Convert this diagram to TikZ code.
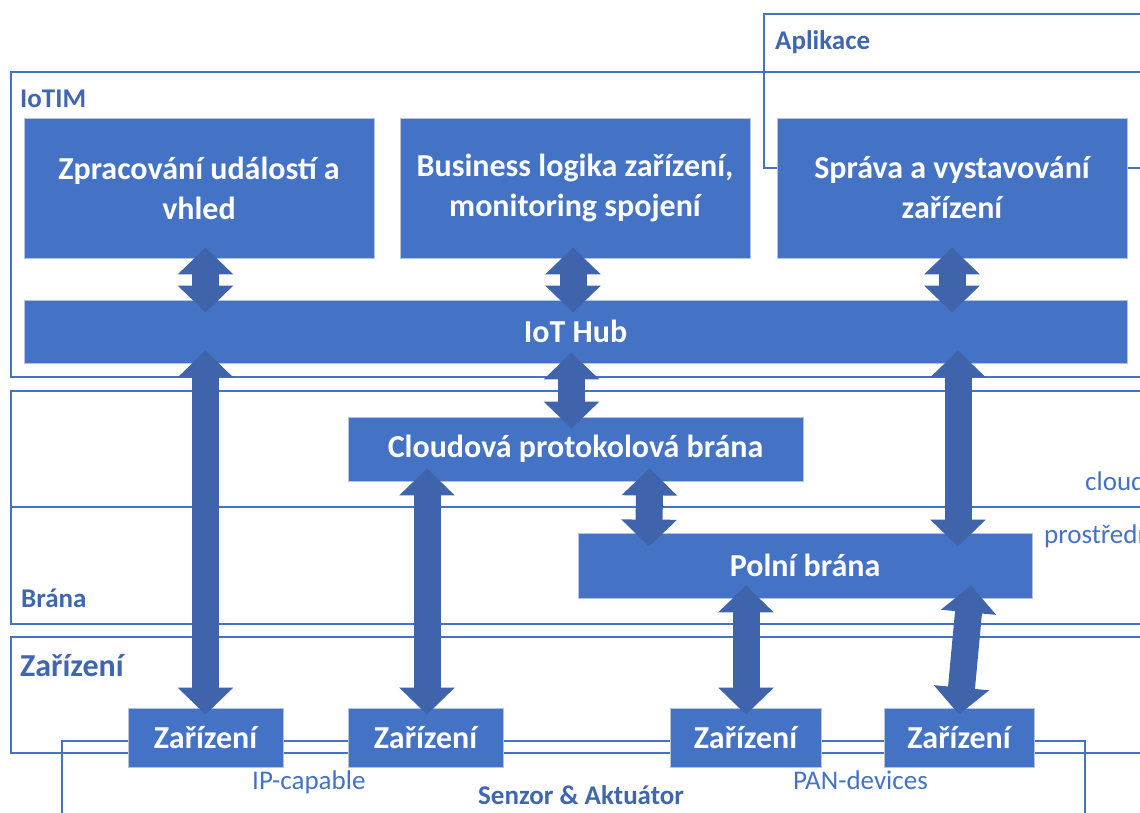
\documentclass[tikz,border=0pt]{standalone}
\usepackage{fontspec}
\setmainfont{Carlito}
\usetikzlibrary{arrows.meta,calc}

\definecolor{boxblue}{HTML}{4472C4}
\definecolor{boxedge}{HTML}{B7C3DB}
\definecolor{arrowblue}{HTML}{3F64AB}
\definecolor{frameblue}{HTML}{4472C4}
\definecolor{labelblue}{HTML}{3F66B0}

\tikzset{
  layerframe/.style={draw=frameblue, line width=1.3pt},
  bluebox/.style={fill=boxblue, draw=boxedge, line width=0.8pt, text=white,
    font=\bfseries\fontsize{32}{40}\selectfont, align=center, inner sep=0pt},
  devbox/.style={bluebox, minimum height=59pt},
  sectionlabel/.style={text=labelblue, font=\bfseries\fontsize{27}{32}\selectfont,
    anchor=base west, inner sep=0pt},
  notelabel/.style={text=frameblue, font=\fontsize{27}{32}\selectfont,
    anchor=base west, inner sep=0pt},
  blockarrow/.style={draw=arrowblue, line width=27pt,
    {Triangle[length=27pt,width=54pt]}-{Triangle[length=27pt,width=54pt]}}
}

\begin{document}
\begin{tikzpicture}[x=1pt, y=-1pt]
  \useasboundingbox (0,0) rectangle (1140,812);
  \fill[white] (0,0) rectangle (1140,812);

  % layer frames
  \draw[layerframe] (764,14) rectangle (1160,168);
  \draw[layerframe] (11,72) rectangle (1160,377);
  \draw[layerframe] (11,391) rectangle (1160,507);
  \draw[layerframe] (11,507) rectangle (1160,624);
  \draw[layerframe] (11,637) rectangle (1160,753);
  \draw[layerframe] (62,741) rectangle (1085,830);

  % service blocks
  \node[bluebox, minimum width=350pt, minimum height=140pt] (zp) at (199,188)
    {Zpracování událostí a\\vhled};
  \node[bluebox, minimum width=350pt, minimum height=140pt] (bl) at (575,188)
    {Business logika zařízení,\\monitoring spojení};
  \node[bluebox, minimum width=350pt, minimum height=140pt] (sp) at (952,188)
    {Správa a vystavování\\zařízení};
  \node[bluebox, minimum width=1103pt, minimum height=63pt] (hub) at (575.5,331.5)
    {IoT Hub};
  \node[bluebox, minimum width=455pt, minimum height=64pt] (cpb) at (575.5,449)
    {Cloudová protokolová brána};
  \node[bluebox, minimum width=454pt, minimum height=65pt] (pb) at (805,565.5)
    {Polní brána};

  % devices
  \node[devbox, minimum width=155pt] (z1) at (205.5,737.5) {Zařízení};
  \node[devbox, minimum width=155pt] (z2) at (425.5,737.5) {Zařízení};
  \node[devbox, minimum width=151pt] (z3) at (745.5,737.5) {Zařízení};
  \node[devbox, minimum width=150pt] (z4) at (959,737.5) {Zařízení};

  % two-way block arrows
  \draw[blockarrow] ($(zp.south -| z1)+(0,-11)$) -- ($(hub.north -| z1)+(0,13)$);
  \draw[blockarrow] ($(bl.south)+(-2,-11)$) -- ($(hub.north -| bl.south)+(-2,13)$);
  \draw[blockarrow] ($(sp.south)+(0,-11)$) -- ($(hub.north -| sp.south)+(0,13)$);
  \draw[blockarrow] ($(hub.south -| z1)+(0,-13)$) -- ($(z1.north)+(0,7)$);
  \draw[blockarrow] ($(hub.south -| cpb.north)+(-4,-11)$) -- ($(cpb.north)+(-4,12)$);
  \draw[blockarrow] ($(cpb.south -| z2.north)+(1.5,-13)$) -- ($(z2.north)+(1.5,7)$);
  \draw[blockarrow] ($(cpb.south)+(74,-13)$) -- ($(pb.north)+(-156,14)$);
  \draw[blockarrow] ($(hub.south -| z4)+(-1,-13)$) -- ($(pb.north -| z4)+(-1,14)$);
  \draw[blockarrow] ($(pb.south -| z3)+(0.5,-13)$) -- ($(z3.north)+(0.5,7)$);
  \draw[blockarrow] ($(pb.south)+(166,-13)$) -- ($(z4.north)+(0,7)$);

  % layer labels
  \node[sectionlabel] (lapp) at (775,49) {Aplikace};
  \node[sectionlabel] (liot) at (20,107) {IoTIM};
  \node[sectionlabel] (lbr) at (21,607) {Brána};
  \node[sectionlabel, font=\bfseries\fontsize{32}{36}\selectfont] (ldev) at (20,676) {Zařízení};
  \node[sectionlabel] (lsen) at (478,804) {Senzor \& Aktuátor};
  \node[notelabel] (lcl) at (1085,490) {cloud};
  \node[notelabel] (lenv) at (1044,543) {prostředí};
  \node[notelabel] (lip) at (252,789) {IP-capable};
  \node[notelabel] (lpan) at (793,789) {PAN-devices};
\end{tikzpicture}
\end{document}
